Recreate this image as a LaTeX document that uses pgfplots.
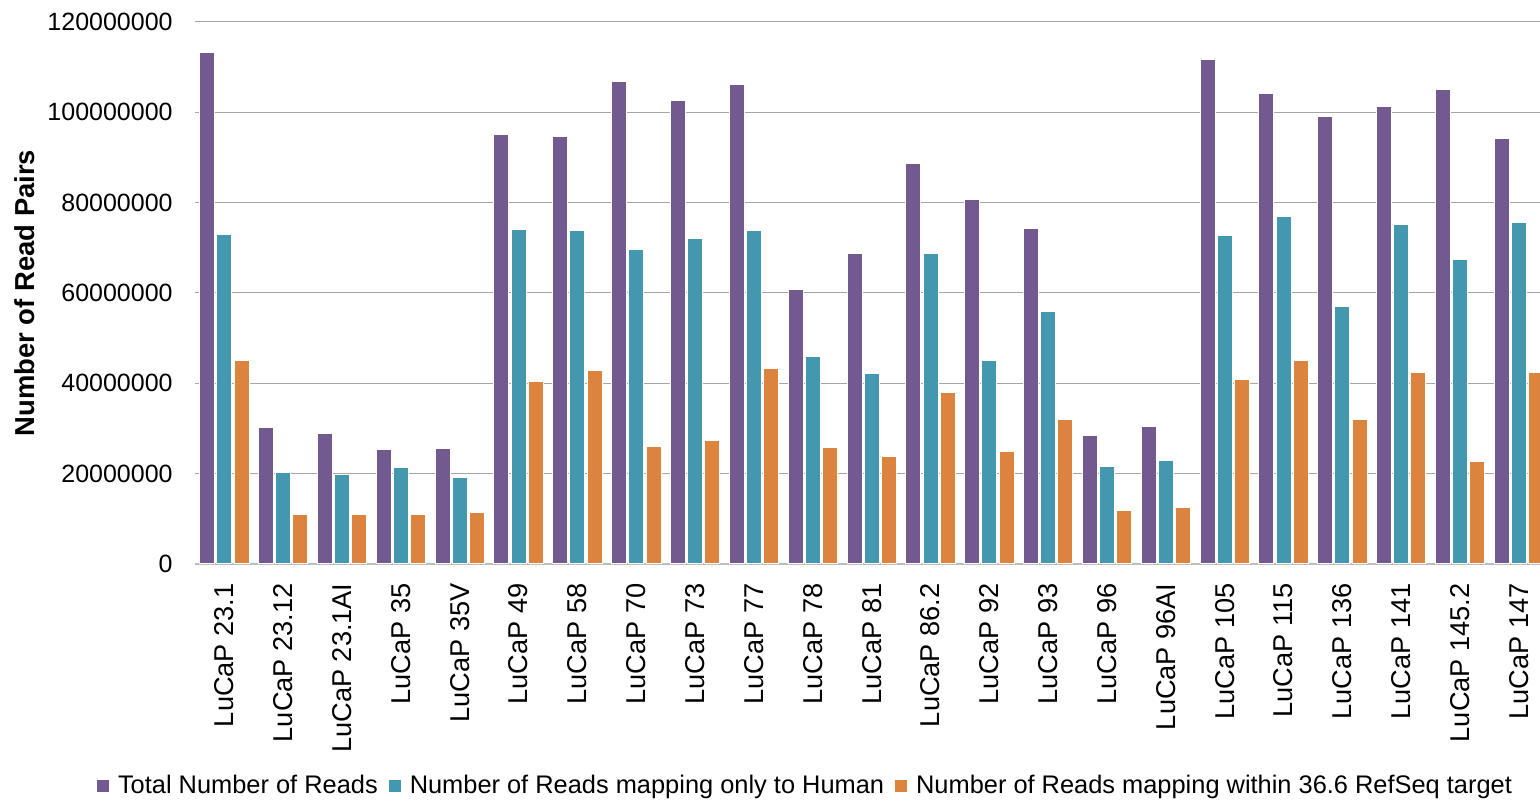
\documentclass[border=0pt]{standalone}
\usepackage{fontspec}
\setmainfont{Liberation Sans}
\usepackage{pgfplots}
\usepackage{pgfplotstable}
\pgfplotsset{compat=1.18}
\definecolor{cpurple}{RGB}{114,89,143}
\definecolor{cteal}{RGB}{67,152,175}
\definecolor{corange}{RGB}{220,132,62}
\definecolor{cgrid}{RGB}{166,166,166}
\definecolor{caxis}{RGB}{190,190,190}

\pgfplotstableread{
x total human refseq
0 113300000 72900000 45000000
1 30200000 20200000 10900000
2 29000000 19900000 10900000
3 25300000 21400000 10900000
4 25500000 19200000 11300000
5 95100000 74000000 40300000
6 94700000 73800000 42900000
7 106800000 69600000 26000000
8 102700000 72100000 27300000
9 106100000 73800000 43200000
10 60800000 46000000 25700000
11 68700000 42200000 23800000
12 88700000 68700000 38000000
13 80600000 45100000 25000000
14 74300000 55900000 32100000
15 28400000 21600000 11800000
16 30500000 22900000 12600000
17 111800000 72800000 40800000
18 104200000 77000000 45000000
19 99100000 57000000 31900000
20 101300000 75200000 42500000
21 105000000 67500000 22600000
22 94200000 75600000 42500000
}\datatable

\pgfplotsset{
  mybar/.style={ybar, bar width=0.255, fill=#1, draw=white, line width=0.5pt,
    legend image code/.code={\fill[#1] (0pt,-2.75pt) rectangle (5.5pt,2.75pt);}},
}

\begin{document}
\begin{tikzpicture}
\useasboundingbox (0,0) rectangle (770pt,401pt);
\begin{axis}[
  at={(97.5pt,119pt)}, anchor=south west,
  scale only axis, width=672.5pt, height=271pt,
  xmin=-0.5, xmax=22.358, ymin=0, ymax=120000000,
  axis x line*=bottom, axis y line*=left,
  x axis line style={draw=caxis, line width=0.8pt},
  y axis line style={draw=none},
  major tick length=0pt,
  ytick={0,20000000,40000000,60000000,80000000,100000000,120000000},
  scaled y ticks=false,
  yticklabel style={font=\fontsize{12.5}{15}\selectfont, inner sep=0pt,
    /pgf/number format/fixed, /pgf/number format/precision=0,
    /pgf/number format/1000 sep={}, /pgf/number format/assume math mode=true},
  ymajorgrids, major grid style={draw=cgrid, line width=0.5pt},
  xtick={0,...,22},
  xticklabels={LuCaP 23.1, LuCaP 23.12, LuCaP 23.1AI, LuCaP 35, LuCaP 35V, LuCaP 49, LuCaP 58, LuCaP 70, LuCaP 73, LuCaP 77, LuCaP 78, LuCaP 81, LuCaP 86.2, LuCaP 92, LuCaP 93, LuCaP 96, LuCaP 96AI, LuCaP 105, LuCaP 115, LuCaP 136, LuCaP 141, LuCaP 145.2, LuCaP 147},
  xticklabel style={rotate=90, anchor=east, font=\fontsize{13.6}{16}\selectfont, inner sep=0pt},
  xticklabel shift=9.5pt,
  yticklabel shift=11pt,
  ylabel={Number of Read Pairs},
  ylabel style={at={(axis description cs:-0.1264,0.5)}, anchor=center, font=\fontsize{13.7}{16}\selectfont\bfseries},
  legend columns=3,
  legend style={at={(axis description cs:-0.07286,-0.4096)}, anchor=west, draw=none, fill=none, inner sep=0pt, outer sep=0pt,
    font=\fontsize{12.7}{15}\selectfont, nodes={inner sep=0pt},
    /tikz/every odd column/.append style={column sep=4.5pt},
    /tikz/every even column/.append style={column sep=5.5pt}},
]
\addplot[mybar=cpurple, bar shift=-0.292] table[x=x, y=total] {\datatable};
\addplot[mybar=cteal, bar shift=0] table[x=x, y=human] {\datatable};
\addplot[mybar=corange, bar shift=0.292] table[x=x, y=refseq] {\datatable};
\legend{Total Number of Reads, Number of Reads mapping only to Human, Number of Reads mapping within 36.6 RefSeq target}
\end{axis}
\end{tikzpicture}
\end{document}
